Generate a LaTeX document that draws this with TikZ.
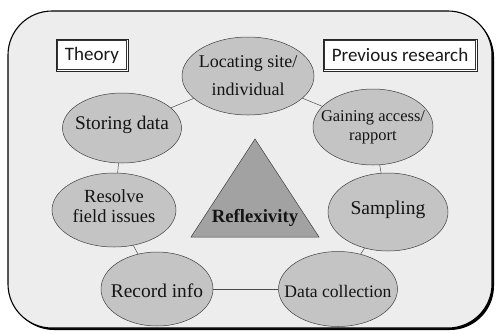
\documentclass[tikz,border=0pt]{standalone}
\usepackage{fontspec}
\setmainfont{Liberation Serif}
\newfontfamily\boxfont{Carlito}
\usetikzlibrary{shapes.geometric}

\definecolor{panelgray}{HTML}{EDEDED}
\definecolor{stagegray}{HTML}{C4C4C4}
\definecolor{coregray}{HTML}{A2A2A2}

\begin{document}
\begin{tikzpicture}[x=1pt,y=-1pt,
  stage/.style={ellipse, draw=black!75, line width=0.5pt, fill=stagegray, inner sep=0pt},
  stagetext/.style={align=center, text=black!92},
  tagbox/.style={draw=black!85, line width=0.9pt, fill=white, inner sep=0pt,
    font=\boxfont\fontsize{19}{22}\selectfont, text=black!90},
  taginner/.style={draw=black!80, line width=0.7pt},
  link/.style={draw=black!70, line width=0.5pt}]

  % page extent
  \useasboundingbox (0,0) rectangle (496,333);

  % rounded panel with a drop shadow along the lower right
  \fill[black, rounded corners=44pt] (10,13) rectangle (494,330);
  \draw[fill=panelgray, line width=1.1pt, rounded corners=44pt] (8,11) rectangle (492,328);

  % corner tags with a double frame
  \node[tagbox, minimum width=72pt, minimum height=32pt] (theory) at (92,55) {Theory};
  \draw[taginner] ([shift={(2.2,2.2)}]theory.north west) rectangle ([shift={(-2.2,-2.2)}]theory.south east);
  \node[tagbox, minimum width=154pt, minimum height=32pt] (prev) at (400,55) {Previous research};
  \draw[taginner] ([shift={(2.2,2.2)}]prev.north west) rectangle ([shift={(-2.2,-2.2)}]prev.south east);

  % stages of the cycle
  \node[stage, minimum width=132pt, minimum height=78pt,
    label={[stagetext, font=\fontsize{18}{28}\selectfont]center:Locating site/\\individual}]
    (locate) at (248,76) {};
  \node[stage, minimum width=120pt, minimum height=76pt,
    label={[stagetext, font=\fontsize{16.5}{19}\selectfont]center:Gaining access/\\rapport}]
    (access) at (373,127) {};
  \node[stage, minimum width=120pt, minimum height=78pt,
    label={[stagetext, font=\fontsize{19.5}{22}\selectfont, yshift=2pt]center:Sampling}]
    (sample) at (388,212) {};
  \node[stage, minimum width=119pt, minimum height=75pt,
    label={[stagetext, font=\fontsize{17.6}{20}\selectfont, yshift=-2pt]center:Data collection}]
    (collect) at (338,289) {};
  \node[stage, minimum width=112pt, minimum height=74pt,
    label={[stagetext, font=\fontsize{19.4}{22}\selectfont, yshift=-2pt]center:Record info}]
    (record) at (157,289) {};
  \node[stage, minimum width=124pt, minimum height=74pt,
    label={[stagetext, font=\fontsize{18.5}{20}\selectfont, yshift=4pt]center:Resolve\\field issues}]
    (resolve) at (114,210) {};
  \node[stage, minimum width=119pt, minimum height=70pt,
    label={[stagetext, font=\fontsize{19.3}{22}\selectfont, yshift=3pt]center:Storing data}]
    (store) at (122,128) {};

  % links around the cycle
  \draw[link] (locate) -- (access);
  \draw[link] (access) -- (sample);
  \draw[link] (sample) -- (collect);
  \draw[link] (collect) -- (record);
  \draw[link] (record) -- (resolve);
  \draw[link] (resolve) -- (store);
  \draw[link] (store) -- (locate);

  % central triangle
  \coordinate (apex) at (255,139);
  \coordinate (baseL) at (191,237);
  \coordinate (baseR) at (319,237);
  \draw[fill=coregray, draw=black!75, line width=0.5pt] (apex) -- (baseR) -- (baseL) -- cycle;
  \node[font=\bfseries\fontsize{18.7}{22}\selectfont, text=black!92] (reflex) at (255,218) {Reflexivity};
\end{tikzpicture}
\end{document}
